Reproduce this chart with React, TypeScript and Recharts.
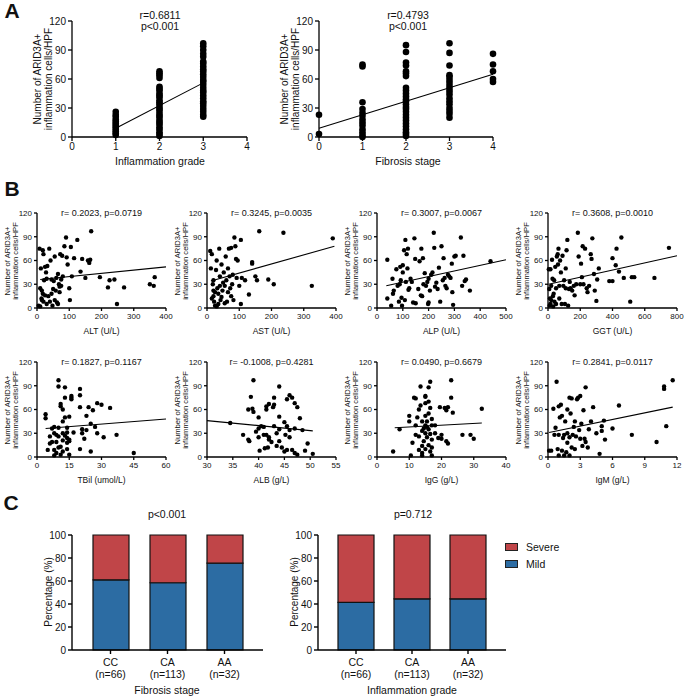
import React from 'react';
import { ScatterChart, Scatter, XAxis, YAxis, ReferenceLine, BarChart, Bar } from 'recharts';

const FONT = '"Liberation Sans", Arial, Helvetica, sans-serif';
const BLUE = '#2c6ca3';
const RED = '#c04548';

// ---- Panel A: ARID3A+ cells by grade / stage ----
const inflGrade1 = [26, 23, 21, 18, 16, 14, 12, 10, 8, 6, 4, 2];
const inflGrade2 = [68, 66, 64, 61, 52, 50, 48, 45, 43, 41, 38, 36, 34, 31, 29, 27, 24, 22, 20, 17, 15, 13, 10, 8, 5, 3, 1];
const inflGrade3 = [97, 94, 90, 86, 83, 78, 76, 73, 70, 68, 65, 62, 59, 57, 54, 51, 48, 46, 43, 40, 37, 35, 32, 29, 26, 23, 21];
const inflFit = [{ x: 1, y: 9 }, { x: 3, y: 56 }];

const fibStage0 = [23, 3];
const fibStage1 = [75, 73, 36, 29, 25, 22, 18, 15, 12, 8, 5, 2, 0];
const fibStage2 = [95, 88, 77, 74, 68, 66, 63, 51, 48, 45, 42, 39, 37, 34, 31, 29, 26, 23, 20, 17, 14, 11, 8, 5, 3, 1];
const fibStage3 = [97, 87, 74, 64, 62, 59, 56, 53, 50, 47, 44, 40, 37, 34, 30, 27, 24, 20];
const fibStage4 = [86, 75, 68, 60, 57];
const fibFit = [{ x: 0, y: 9 }, { x: 4, y: 65 }];

// ---- Panel B: lab values vs ARID3A+ cells ----
const altPts = [[5,3],[8,75],[10,25],[12,50],[14,12],[15,22],[18,73],[18,18],[20,8],[20,68],[22,35],[25,52],[28,45],[30,37],[32,53],[35,15],[38,75],[40,8],[42,60],[45,36],[48,3],[50,24],[52,34],[55,65],[58,22],[60,38],[62,7],[65,43],[68,30],[70,27],[70,20],[72,68],[75,36],[78,66],[80,40],[85,78],[90,89],[92,64],[95,55],[100,25],[102,10],[105,77],[108,40],[115,63],[125,86],[135,46],[140,62],[150,38],[158,60],[162,57],[165,61],[168,97],[195,39],[220,26],[225,35],[240,36],[248,5],[270,26],[350,30],[362,28],[365,39],[10,2],[15,10],[25,16],[30,5],[45,18],[55,10],[65,5],[75,28]];
const altFit = [{ x: 10, y: 36 }, { x: 400, y: 52 }];

const astPts = [[10,72],[12,50],[15,68],[18,30],[20,35],[22,8],[25,3],[25,20],[28,48],[30,60],[32,25],[35,5],[38,75],[40,40],[42,10],[45,55],[48,22],[50,32],[52,45],[55,28],[58,65],[60,35],[62,8],[65,50],[68,75],[70,40],[72,25],[75,76],[78,30],[80,42],[82,10],[85,89],[88,78],[90,62],[92,38],[95,60],[100,28],[105,86],[105,5],[108,38],[118,35],[130,17],[140,56],[140,58],[150,40],[155,35],[162,97],[190,36],[207,30],[237,95],[325,28],[390,88],[15,12],[20,15],[30,2],[35,18],[45,14],[55,6],[65,20],[75,15],[20,22],[40,28]];
const astFit = [{ x: 12, y: 34 }, { x: 395, y: 78 }];

const alpPts = [[40,12],[40,61],[55,3],[60,37],[62,18],[65,22],[75,49],[80,28],[85,8],[88,30],[90,52],[92,35],[95,13],[97,3],[100,54],[100,45],[105,73],[108,10],[110,86],[112,33],[115,68],[118,50],[120,75],[122,23],[125,25],[130,37],[135,33],[140,7],[145,88],[148,62],[150,6],[160,24],[165,59],[170,16],[172,75],[175,15],[178,63],[180,30],[185,44],[190,28],[195,33],[198,5],[200,7],[200,37],[205,22],[210,42],[215,45],[220,95],[222,76],[225,27],[235,24],[240,51],[245,8],[250,78],[255,35],[258,63],[262,38],[265,28],[270,25],[275,42],[280,40],[285,38],[290,56],[292,20],[295,4],[300,65],[305,66],[325,89],[330,28],[335,66],[345,36],[360,22],[440,59],[340,34],[230,32]];
const alpFit = [{ x: 36, y: 28 }, { x: 500, y: 61 }];

const ggtPts = [[5,49],[8,24],[10,3],[12,12],[15,49],[15,5],[20,10],[25,61],[28,37],[30,15],[32,2],[35,18],[38,35],[40,8],[45,52],[50,5],[55,65],[60,68],[62,55],[65,75],[70,28],[75,60],[80,45],[85,5],[90,66],[95,28],[100,35],[105,5],[110,25],[115,73],[120,86],[125,3],[130,24],[135,33],[140,25],[150,22],[160,28],[165,16],[175,30],[185,95],[190,65],[200,30],[205,56],[210,39],[215,78],[220,30],[230,75],[240,25],[245,20],[255,28],[265,68],[270,62],[275,88],[285,43],[290,22],[300,9],[305,36],[315,50],[380,34],[400,34],[400,63],[420,54],[425,75],[440,46],[455,89],[470,38],[510,8],[520,39],[535,39],[660,38],[750,76],[20,28],[50,25],[70,12],[110,50]];
const ggtFit = [{ x: 3, y: 30 }, { x: 800, y: 66 }];

const tbilPts = [[4,49],[4,54],[5,9],[6,26],[7,36],[7,19],[8,9],[8,38],[8,2],[9,5],[9,28],[9,19],[10,89],[10,26],[10,97],[10,37],[11,13],[11,67],[11,64],[11,3],[12,60],[12,45],[12,21],[12,7],[13,88],[13,75],[13,50],[13,27],[14,24],[14,18],[14,31],[14,37],[15,51],[15,22],[15,20],[15,3],[16,75],[16,77],[16,73],[17,31],[20,63],[20,86],[20,78],[20,10],[21,30],[21,35],[22,23],[23,52],[23,34],[24,63],[25,7],[25,42],[26,59],[27,38],[28,68],[28,30],[30,66],[31,25],[34,62],[37,28],[45,5],[10,12],[12,30],[14,10],[8,30],[6,17]];
const tbilFit = [{ x: 4, y: 36 }, { x: 60, y: 48 }];

const albPts = [[34.5,43],[37,28],[38,60],[38,22],[38.2,20],[38.5,76],[38.8,61],[39,97],[39,57],[39.5,32],[40,50],[40,36],[40.2,8],[40.5,39],[41,38],[41,28],[41.2,11],[41.5,64],[41.5,60],[41.5,28],[41.8,12],[42,67],[42,25],[42,22],[42.5,19],[42.8,63],[43,66],[43,39],[43,75],[43.5,14],[44,51],[44,89],[44,35],[44.5,12],[45,44],[45,7],[45.2,28],[45.5,9],[45.5,73],[45.5,39],[46,78],[46,34],[46,25],[46.5,75],[46.5,9],[47,68],[47,36],[47,5],[47.5,63],[47.5,3],[48,49],[48.5,34],[49,8],[49.5,17],[50.5,4],[43.5,30],[40,25],[44,20]];
const albFit = [{ x: 30, y: 46 }, { x: 50.5, y: 33 }];

const iggPts = [[5,7],[7,35],[10,45],[10,52],[10.5,2],[11,18],[11.5,75],[12,74],[12,40],[12,28],[12.5,50],[13,26],[13,60],[13.5,89],[13.5,65],[14,45],[14,33],[14,5],[14,2],[14.5,36],[14.5,20],[15,77],[15,76],[15,68],[15,40],[15,30],[15,10],[15.5,45],[15.5,38],[15.5,25],[16,88],[16,70],[16,55],[16,35],[16,15],[16.5,95],[16.5,62],[16.5,29],[16.5,7],[17,48],[17,40],[17,22],[17,2],[18,30],[18,40],[19,24],[19.5,63],[20,23],[20,28],[21,62],[21.5,59],[21.5,20],[22,17],[22,63],[23,75],[23,97],[23.5,56],[26.5,28],[29,28],[30,23],[32.5,61],[14,14],[13,9],[17,12],[15,52]];
const iggFit = [{ x: 5.5, y: 37 }, { x: 32.5, y: 43 }];

const igmPts = [[0.1,8],[0.3,8],[0.5,61],[0.7,37],[0.8,95],[0.9,10],[1,28],[1,64],[1,2],[1.1,50],[1.2,66],[1.3,52],[1.3,8],[1.4,24],[1.5,2],[1.5,28],[1.6,45],[1.7,6],[1.8,30],[1.8,60],[2,25],[2,75],[2,2],[2.1,55],[2.2,74],[2.3,28],[2.4,38],[2.5,45],[2.6,26],[2.7,73],[2.8,75],[2.9,34],[3,77],[3,23],[3.1,42],[3.2,14],[3.3,59],[3.4,23],[3.5,88],[3.5,19],[3.7,12],[3.8,35],[4,45],[4.2,63],[4.5,30],[4.8,4],[5,39],[5,33],[5.2,46],[5.3,22],[6,36],[6.6,65],[7.8,28],[10.1,19],[10.8,86],[10.8,89],[11,39],[11.6,97],[1.8,18],[2.5,10],[0.6,28],[2.2,12]];
const igmFit = [{ x: 0.1, y: 31 }, { x: 11.6, y: 63 }];

const cellTicks = [0, 30, 60, 90, 120];

// ---- Panel C: genotype distribution ----
const genotypes = ['CC', 'CA', 'AA'];
const genotypeN = ['(n=66)', '(n=113)', '(n=32)'];
const fibrosisMild = [61, 58.5, 75.5];
const fibrosisSevere = [39, 41.5, 24.5];
const inflMild = [41.5, 44.5, 44.5];
const inflSevere = [58.5, 55.5, 55.5];
const severityKeys = [
  { name: 'Severe', color: RED },
  { name: 'Mild', color: BLUE },
];

const toXY = (pts: number[][]) => pts.map(([x, y]) => ({ x, y }));
const columns = (vals: number[], x: number) => vals.map((y) => ({ x, y }));

function Txt({ x, y, size, children, bold, rotate, lh }: any) {
  return (
    <div
      style={{
        position: 'absolute', left: x, top: y, fontSize: size, fontFamily: FONT, color: '#111',
        fontWeight: bold ? 700 : 400, whiteSpace: 'nowrap', lineHeight: lh || 1.08, textAlign: 'center',
        transform: `translate(-50%, -50%)${rotate ? ' rotate(-90deg)' : ''}`,
      }}
    >
      {children}
    </div>
  );
}

const YW = 40;
const MT = 10;
const MR = 12;
const XH = 30;

function ScatterPanel({ box, points, fit, xDomain, xTicks, r, font, tickSize }: any) {
  const axis = { stroke: '#000', strokeWidth: 1.3 };
  const tick = { fill: '#111', fontSize: font, fontFamily: FONT };
  return (
    <div style={{ position: 'absolute', left: box.x - YW, top: box.y - MT }}>
      <ScatterChart width={YW + box.w + MR} height={MT + box.h + XH} margin={{ top: MT, right: MR, bottom: 0, left: 0 }}>
        <XAxis type="number" dataKey="x" domain={xDomain} ticks={xTicks} interval={0} height={XH}
          axisLine={axis} tickLine={axis} tickSize={tickSize} tick={tick} />
        <YAxis type="number" dataKey="y" domain={[0, 120]} ticks={cellTicks} interval={0} width={YW}
          axisLine={axis} tickLine={axis} tickSize={tickSize} tick={tick} />
        <Scatter data={points} isAnimationActive={false}
          shape={(p: any) => <circle cx={p.cx} cy={p.cy} r={r} fill="#000" />} />
        <ReferenceLine segment={fit} stroke="#000" strokeWidth={1.1} ifOverflow="visible" />
      </ScatterChart>
    </div>
  );
}

const bPanels = [
  { pts: altPts, fit: altFit, dom: [0, 400], ticks: [0, 100, 200, 300, 400], title: 'r= 0.2023, p=0.0719', label: 'ALT (U/L)' },
  { pts: astPts, fit: astFit, dom: [0, 400], ticks: [0, 100, 200, 300, 400], title: 'r= 0.3245, p=0.0035', label: 'AST (U/L)' },
  { pts: alpPts, fit: alpFit, dom: [0, 500], ticks: [0, 100, 200, 300, 400, 500], title: 'r= 0.3007, p=0.0067', label: 'ALP (U/L)' },
  { pts: ggtPts, fit: ggtFit, dom: [0, 800], ticks: [0, 200, 400, 600, 800], title: 'r= 0.3608, p=0.0010', label: 'GGT (U/L)' },
  { pts: tbilPts, fit: tbilFit, dom: [0, 60], ticks: [0, 15, 30, 45, 60], title: 'r= 0.1827, p=0.1167', label: 'TBil (umol/L)' },
  { pts: albPts, fit: albFit, dom: [30, 55], ticks: [30, 35, 40, 45, 50, 55], title: 'r= -0.1008, p=0.4281', label: 'ALB (g/L)' },
  { pts: iggPts, fit: iggFit, dom: [0, 40], ticks: [0, 10, 20, 30, 40], title: 'r= 0.0490, p=0.6679', label: 'IgG (g/L)' },
  { pts: igmPts, fit: igmFit, dom: [0, 12], ticks: [0, 3, 6, 9, 12], title: 'r= 0.2841, p=0.0117', label: 'IgM (g/L)' },
];
const bCols = [37, 207, 377, 548];
const bRows = [213, 362];

function CellsLabel({ x, y, size, lh }: any) {
  return (
    <Txt x={x} y={y} size={size} rotate lh={lh}>
      Number of ARID3A+<br />inflammation cells/HPF
    </Txt>
  );
}

function GenoTick({ x, y, payload, index }: any) {
  return (
    <g>
      <text x={x} y={y + 10} textAnchor="middle" fontSize={10.5} fontFamily={FONT} fill="#111">{payload.value}</text>
      <text x={x} y={y + 22} textAnchor="middle" fontSize={10.5} fontFamily={FONT} fill="#111">{genotypeN[index]}</text>
    </g>
  );
}

function StackPanel({ box, mild, severe }: any) {
  const rows = genotypes.map((g, i) => ({ name: g, mild: mild[i], severe: severe[i] }));
  const axis = { stroke: '#000', strokeWidth: 1.4 };
  return (
    <div style={{ position: 'absolute', left: box.x - YW, top: box.y - MT }}>
      <BarChart width={YW + box.w + MR} height={MT + box.h + 36} data={rows}
        margin={{ top: MT, right: MR, bottom: 0, left: 0 }}>
        <XAxis dataKey="name" interval={0} height={36} padding={{ left: 10, right: 10 }}
          axisLine={axis} tickLine={axis} tickSize={4} tick={<GenoTick />} />
        <YAxis type="number" domain={[0, 100]} ticks={[0, 20, 40, 60, 80, 100]} interval={0} width={YW}
          axisLine={axis} tickLine={axis} tickSize={4} tick={{ fill: '#111', fontSize: 10, fontFamily: FONT }} />
        <Bar dataKey="mild" name="Mild" stackId="s" fill={BLUE} stroke="#111" strokeWidth={1.2} barSize={36} isAnimationActive={false} />
        <Bar dataKey="severe" name="Severe" stackId="s" fill={RED} stroke="#111" strokeWidth={1.2} barSize={36} isAnimationActive={false} />
      </BarChart>
    </div>
  );
}

function SeverityLegend({ x, y }: any) {
  return (
    <div style={{ position: 'absolute', left: x, top: y, fontFamily: FONT, fontSize: 10.5, color: '#111' }}>
      {severityKeys.map((k) => (
        <div key={k.name} style={{ display: 'flex', alignItems: 'center', height: 17 }}>
          <span style={{ display: 'inline-block', width: 11, height: 6, background: k.color, border: '1.3px solid #222', marginRight: 8 }} />
          {k.name}
        </div>
      ))}
    </div>
  );
}

export default function App() {
  const aLeft = { x: 72, y: 21, w: 175, h: 116 };
  const aRight = { x: 319, y: 21, w: 174, h: 116 };
  const cLeft = { x: 72, y: 535, w: 191, h: 115 };
  const cRight = { x: 318, y: 535, w: 188, h: 115 };
  const inflPoints = [...columns(inflGrade1, 1), ...columns(inflGrade2, 2), ...columns(inflGrade3, 3)];
  const fibPoints = [
    ...columns(fibStage0, 0), ...columns(fibStage1, 1), ...columns(fibStage2, 2),
    ...columns(fibStage3, 3), ...columns(fibStage4, 4),
  ];
  return (
    <div style={{ position: 'absolute', left: 0, top: 0, width: 685, height: 697, background: '#fff', overflow: 'hidden' }}>
      {/* A */}
      <Txt x={12} y={11} size={21} bold>A</Txt>
      <ScatterPanel box={aLeft} points={inflPoints} fit={inflFit} xDomain={[0, 4]} xTicks={[0, 1, 2, 3, 4]} r={3.3} font={10} tickSize={4} />
      <ScatterPanel box={aRight} points={fibPoints} fit={fibFit} xDomain={[0, 4]} xTicks={[0, 1, 2, 3, 4]} r={3.3} font={10} tickSize={4} />
      <Txt x={160} y={21} size={10.5}>r=0.6811<br />p&lt;0.001</Txt>
      <Txt x={408} y={21} size={10.5}>r=0.4793<br />p&lt;0.001</Txt>
      <Txt x={160} y={162} size={10.5}>Inflammation grade</Txt>
      <Txt x={408} y={162} size={10.5}>Fibrosis stage</Txt>
      <CellsLabel x={44} y={79} size={10} />
      <CellsLabel x={291} y={79} size={10} />

      {/* B */}
      <Txt x={12} y={189} size={21} bold>B</Txt>
      {bPanels.map((p, i) => {
        const box = { x: bCols[i % 4], y: bRows[Math.floor(i / 4)], w: 129, h: 95 };
        return (
          <React.Fragment key={p.label}>
            <ScatterPanel box={box} points={toXY(p.pts)} fit={p.fit} xDomain={p.dom} xTicks={p.ticks} r={2.2} font={8} tickSize={3} />
            <Txt x={box.x + box.w / 2} y={box.y + 1} size={9}>{p.title}</Txt>
            <Txt x={box.x + box.w / 2} y={box.y + box.h + 24} size={8.5}>{p.label}</Txt>
            <CellsLabel x={box.x - 25} y={box.y + box.h / 2} size={7.6} lh={1.02} />
          </React.Fragment>
        );
      })}

      {/* C */}
      <Txt x={11} y={503} size={21} bold>C</Txt>
      <StackPanel box={cLeft} mild={fibrosisMild} severe={fibrosisSevere} />
      <StackPanel box={cRight} mild={inflMild} severe={inflSevere} />
      <SeverityLegend x={505} y={538} />
      <Txt x={167} y={515} size={10.5}>p&lt;0.001</Txt>
      <Txt x={413} y={515} size={10.5}>p=0.712</Txt>
      <Txt x={49} y={592} size={10} rotate>Percentage (%)</Txt>
      <Txt x={295} y={592} size={10} rotate>Percentage (%)</Txt>
      <Txt x={167} y={691} size={10.5}>Fibrosis stage</Txt>
      <Txt x={412} y={691} size={10.5}>Inflammation grade</Txt>
    </div>
  );
}
